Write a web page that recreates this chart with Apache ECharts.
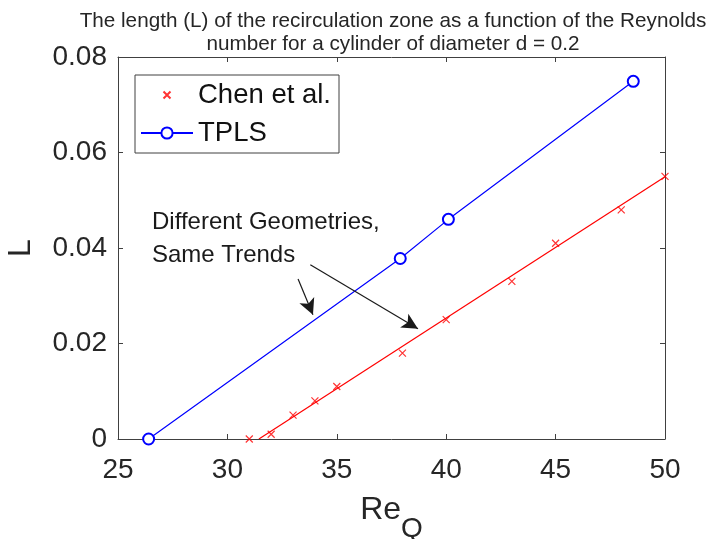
<!DOCTYPE html>
<html style="height: 100%">

<head>
    <meta charset="utf-8">
    <title>Recirculation zone length vs Reynolds number</title>
    <script src="https://cdn.jsdelivr.net/npm/echarts@6/dist/echarts.min.js"></script>
</head>

<body style="margin: 0; height: 100%; background: #fff">
    <div id="main" style="width: 709px; height: 539px"></div>

    <script>
        // Chen et al. (markers)
        const chenX = [31, 32, 33, 34, 35, 38, 40, 43, 45, 48, 50];
        const chenY = [0, 0.001, 0.005, 0.008, 0.011, 0.018, 0.025, 0.033, 0.041, 0.048, 0.055];
        // linear fit drawn through the Chen data
        const fitX = [31.44, 50];
        const fitY = [0, 0.0549];
        // TPLS
        const tplsX = [26.4, 37.9, 40.1, 48.55];
        const tplsY = [0, 0.0378, 0.046, 0.0749];
        // annotation arrows: [startX, startY, tipX, tipY]
        const arrow1 = [33.23, 0.0335, 33.91, 0.026];
        const arrow2 = [33.79, 0.0365, 38.71, 0.0231];

        const xTicks = { min: 25, max: 50, step: 5 };
        const yTicks = { min: 0, max: 0.08, step: 0.02 };

        const FONT = 'Liberation Sans';
        const AXIS_COLOR = '#404040';
        const TEXT_COLOR = '#262626';

        const chart = echarts.init(document.getElementById('main'));

        const pairs = (xs, ys) => xs.map((x, i) => [x, ys[i]]);
        const crossSymbol = 'path://M0,0M20,20M5,5L15,15M15,5L5,15';

        function axisBase(extra) {
            return Object.assign({
                axisLine: { show: true, onZero: false, lineStyle: { color: AXIS_COLOR, width: 1 } },
                axisTick: { show: true, inside: true, length: 5, lineStyle: { color: AXIS_COLOR } },
                splitLine: { show: false }
            }, extra);
        }

        chart.setOption({
            animation: false,
            textStyle: { fontFamily: FONT },
            title: {
                text: 'The length (L) of the recirculation zone as a function of the Reynolds\nnumber for a cylinder of diameter d = 0.2',
                left: 388,
                textAlign: 'center',
                top: 5,
                textStyle: { fontSize: 20.7, fontWeight: 'normal', color: TEXT_COLOR, lineHeight: 23, fontFamily: FONT }
            },
            grid: { left: 118, right: 44, top: 57, bottom: 100, outerBoundsMode: 'none' },
            legend: {
                data: ['Chen et al.', 'TPLS'],
                orient: 'vertical',
                left: 135,
                top: 75,
                itemWidth: 52,
                itemHeight: 14,
                itemGap: 10,
                padding: [6, 8, 6, 5],
                backgroundColor: '#fff',
                borderColor: AXIS_COLOR,
                borderWidth: 1,
                borderRadius: 0,
                textStyle: { fontSize: 27.5, color: '#111', fontFamily: FONT }
            },
            xAxis: [
                axisBase({
                    type: 'value', position: 'bottom',
                    min: xTicks.min, max: xTicks.max, interval: xTicks.step,
                    axisLabel: { fontSize: 28, color: TEXT_COLOR, margin: 17, fontFamily: FONT },
                    name: '{a|Re}{b|Q}',
                    nameLocation: 'middle',
                    nameGap: 55,
                    nameTextStyle: {
                        rich: {
                            a: { fontSize: 32, color: TEXT_COLOR, fontFamily: FONT, verticalAlign: 'top', lineHeight: 36 },
                            b: { fontSize: 28, color: TEXT_COLOR, fontFamily: FONT, verticalAlign: 'top', lineHeight: 32, padding: [21, 0, 0, 0] }
                        }
                    }
                }),
                axisBase({
                    type: 'value', position: 'top',
                    min: xTicks.min, max: xTicks.max, interval: xTicks.step,
                    axisLabel: { show: false }
                })
            ],
            yAxis: [
                axisBase({
                    type: 'value', position: 'left',
                    min: yTicks.min, max: yTicks.max, interval: yTicks.step,
                    axisLabel: { fontSize: 28, color: TEXT_COLOR, margin: 11, fontFamily: FONT },
                    name: 'L',
                    nameLocation: 'middle',
                    nameRotate: 90,
                    nameGap: 81,
                    nameTextStyle: { fontSize: 32, color: TEXT_COLOR, fontFamily: FONT }
                }),
                axisBase({
                    type: 'value', position: 'right',
                    min: yTicks.min, max: yTicks.max, interval: yTicks.step,
                    axisLabel: { show: false }
                })
            ],
            graphic: [{
                type: 'text',
                left: 152,
                top: 206,
                style: {
                    text: 'Different Geometries,\nSame Trends',
                    font: '24px "Liberation Sans"',
                    lineHeight: 33,
                    fill: '#1a1a1a'
                }
            }],
            series: [{
                name: 'fit',
                type: 'line',
                data: pairs(fitX, fitY),
                symbol: 'none',
                lineStyle: { color: '#ff0000', width: 1.2 },
                z: 2,
                markLine: {
                    silent: true,
                    symbol: ['none', 'arrow'],
                    symbolSize: [12, 16],
                    label: { show: false },
                    lineStyle: { color: '#1a1a1a', width: 1.2, type: 'solid' },
                    data: [
                        [{ coord: [arrow1[0], arrow1[1]] }, { coord: [arrow1[2], arrow1[3]] }],
                        [{ coord: [arrow2[0], arrow2[1]] }, { coord: [arrow2[2], arrow2[3]] }]
                    ]
                }
            }, {
                name: 'Chen et al.',
                type: 'scatter',
                data: pairs(chenX, chenY),
                symbol: crossSymbol,
                symbolSize: 14,
                itemStyle: { color: '#ff0000', borderColor: '#ff0000', borderWidth: 1.2 },
                z: 3
            }, {
                name: 'TPLS',
                type: 'line',
                data: pairs(tplsX, tplsY),
                symbol: 'emptyCircle',
                symbolSize: 11,
                lineStyle: { color: '#0000ff', width: 1.2 },
                itemStyle: { color: '#0000ff', borderColor: '#0000ff', borderWidth: 1 },
                z: 3
            }]
        });
    </script>
</body>

</html>
